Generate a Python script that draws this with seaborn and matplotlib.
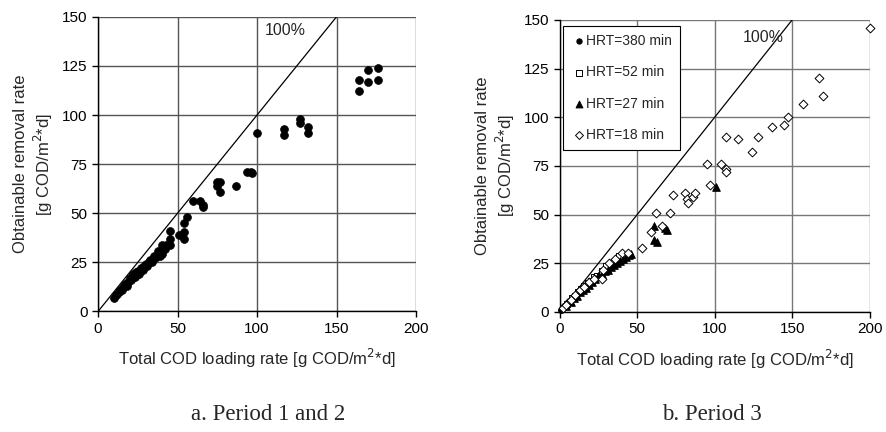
import numpy as np
import pandas as pd
import matplotlib
matplotlib.use("Agg")
import matplotlib.pyplot as plt
import seaborn as sns

# ---- Period 1 and 2 (filled circles) ----
p12_load = [10, 11, 12, 13, 14, 15, 16, 17, 18, 19, 20, 21, 22, 23, 24, 25, 26, 27,
            28, 29, 30, 31, 32, 33, 34, 35, 36, 37, 38, 39, 40, 40, 41, 42, 43, 45,
            45, 45, 51, 54, 54, 54, 56, 60, 64, 66, 66, 75, 77, 75, 77, 87, 94, 96,
            97, 100, 117, 117, 127, 127, 132, 132, 164, 164, 170, 170, 176, 176]
p12_rem = [7, 8.5, 9, 10, 11, 11, 12.5, 14, 13, 15, 17, 16, 19, 17.5, 20, 20.5, 19, 22,
           21, 23, 24, 23, 25, 26, 25, 28, 27, 28, 31, 28, 29.5, 34, 33, 32, 34, 34,
           41, 37, 39, 40.5, 37, 45, 48, 56, 56, 54, 53, 66, 66, 64, 61, 64, 71, 71,
           70.5, 91, 93, 90, 98, 96, 94, 91, 118, 112, 123, 117, 124, 118]

# ---- Period 3 ----
hrt380_load = [1, 2, 3, 4, 5, 6]
hrt380_rem = [1, 2, 3, 3.5, 4.5, 5.5]

hrt52_load = [5, 8, 10, 12, 14, 16, 18, 20, 22, 24, 27, 30, 34, 38]
hrt52_rem = [4, 7, 8, 10, 12, 13.5, 15, 16, 18, 18.5, 21, 23.5, 25, 28.5]

hrt27_load = [4, 7, 9, 11, 13, 15, 17, 19, 21, 23, 25, 27, 29, 31, 33, 35, 37, 39,
              41, 43, 45, 46, 61, 61, 63, 68, 69, 101]
hrt27_rem = [3, 5, 7, 8, 10, 11, 12.5, 14, 15.5, 17, 18.5, 19.5, 21, 21.5, 23, 24, 25, 26,
             27, 28, 29, 29.5, 44, 37, 36, 43, 42, 64]

hrt18_load = [2, 4, 7, 10, 13, 16, 19, 22, 27, 28, 32, 36, 40, 44, 53, 59, 62, 66, 71,
              73, 81, 82, 83, 86, 87, 95, 97, 104, 107, 107, 107, 115, 124, 128, 137,
              145, 147, 157, 167, 170, 200]
hrt18_rem = [2, 3.5, 6, 8.5, 11, 13, 15.5, 17, 17, 21.5, 25, 27, 30, 30, 33, 41, 51, 44, 51,
             60, 61, 58, 56, 59, 61, 76, 65, 76, 73.5, 72, 90, 89, 82, 90, 95,
             96, 100, 107, 120, 111, 146]

x_ticks = [0, 50, 100, 150, 200]
y_ticks = [0, 25, 50, 75, 100, 125, 150]

sns.set_style("ticks")
plt.rcParams["font.family"] = ["Liberation Sans", "DejaVu Sans"]

fig = plt.figure(figsize=(8.87, 4.32), dpi=100)
ax1 = fig.add_axes([0.1105, 0.279, 0.3585, 0.682])
ax2 = fig.add_axes([0.631, 0.278, 0.3495, 0.676])

xlabel = "Total COD loading rate [g COD/m$^{2}$*d]"
ylabel = "Obtainable removal rate\n[g COD/m$^{2}$*d]"


def style_axes(ax, gridcol):
    ax.set_xlim(0, 200)
    ax.set_ylim(0, 150)
    ax.set_xticks(x_ticks)
    ax.set_yticks(y_ticks)
    ax.grid(True, color=gridcol, linewidth=1)
    ax.set_axisbelow(True)
    for s in ["top", "right"]:
        ax.spines[s].set_visible(False)
    for s in ["left", "bottom"]:
        ax.spines[s].set_color("black")
        ax.spines[s].set_linewidth(1)
    ax.tick_params(direction="out", length=4, width=1, labelsize=11, colors="black")
    ax.plot([0, 150], [0, 150], color="black", linewidth=0.9, zorder=2)
    for lab in ax.get_xticklabels() + ax.get_yticklabels():
        lab.set_clip_on(False)


style_axes(ax1, "#555555")
style_axes(ax2, "#777777")

df12 = pd.DataFrame({"load": p12_load, "rem": p12_rem})
sns.scatterplot(data=df12, x="load", y="rem", ax=ax1, marker="o", s=32,
                color="black", edgecolor="black", linewidth=0.5, zorder=3)
ax1.text(118, 143, "100%", fontsize=11.5, ha="center", va="center")
ax1.set_xlabel(xlabel, fontsize=12, labelpad=8)
ax1.set_ylabel(ylabel, fontsize=12, labelpad=5)

series = [
    ("HRT=380 min", hrt380_load, hrt380_rem, "o", "black", 18),
    ("HRT=52 min", hrt52_load, hrt52_rem, "s", "white", 22),
    ("HRT=27 min", hrt27_load, hrt27_rem, "^", "black", 30),
    ("HRT=18 min", hrt18_load, hrt18_rem, "D", "white", 20),
]
for name, xs, ys, mk, fc, sz in series:
    d = pd.DataFrame({"load": xs, "rem": ys})
    sns.scatterplot(data=d, x="load", y="rem", ax=ax2, marker=mk, s=sz,
                    facecolor=fc, edgecolor="black", linewidth=0.7, label=name,
                    zorder=3, clip_on=False)
ax2.text(131, 141, "100%", fontsize=11.5, ha="center", va="center")
ax2.set_xlabel(xlabel, fontsize=12, labelpad=8)
ax2.set_ylabel(ylabel, fontsize=12, labelpad=5)

leg = ax2.legend(loc="upper left", bbox_to_anchor=(0.003, 0.99), fontsize=10,
                 frameon=True, fancybox=False, framealpha=1, edgecolor="black",
                 handletextpad=0.0, labelspacing=1.25, borderpad=0.6,
                 handlelength=1.0, markerscale=0.9, borderaxespad=0.2)
leg.get_frame().set_linewidth(0.8)

fig.text(0.302, 0.04, "a. Period 1 and 2", fontsize=16.5, ha="center", va="center",
         family=["Liberation Serif", "DejaVu Serif"])
fig.text(0.803, 0.04, "b. Period 3", fontsize=16.5, ha="center", va="center",
         family=["Liberation Serif", "DejaVu Serif"])

fig.savefig("out.png", dpi=100, facecolor="white")
